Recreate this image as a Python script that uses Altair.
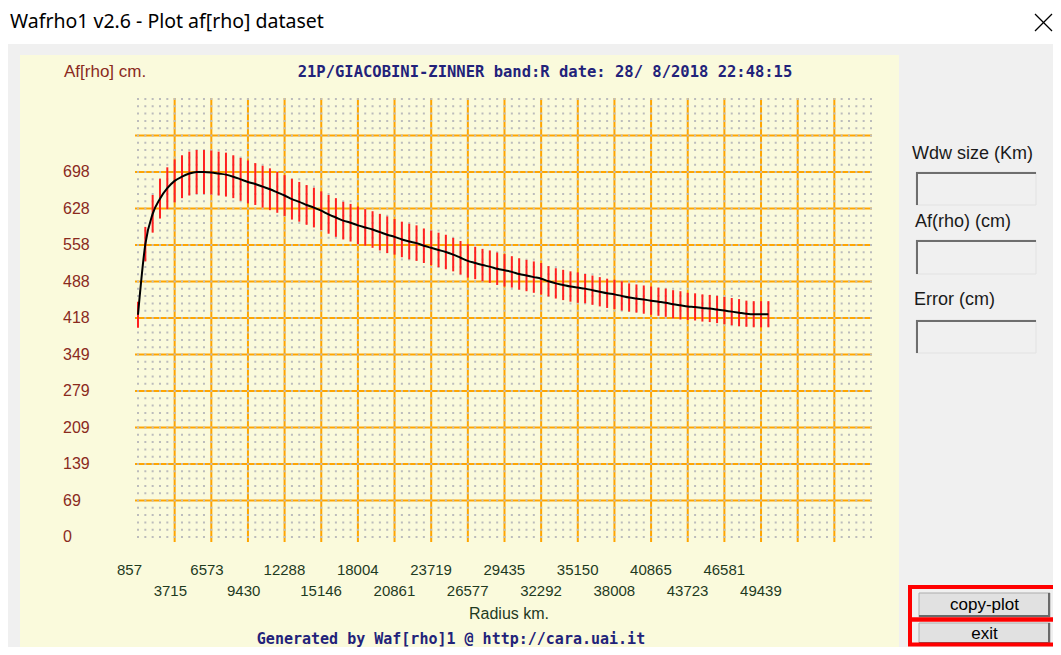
import altair as alt
import pandas as pd

# ---------------- data ----------------
radius = [857, 1429, 2000, 2572, 3143, 3715, 4286, 4858, 5429, 6001,
          6573, 7144, 7716, 8287, 8859, 9430, 10002, 10574, 11145, 11717,
          12288, 12860, 13431, 14003, 14574, 15146, 15718, 16289, 16861, 17432,
          18004, 18575, 19147, 19718, 20290, 20862, 21433, 22005, 22576, 23148,
          23719, 24291, 24863, 25434, 26006, 26577, 27149, 27720, 28292, 28863,
          29435, 30007, 30578, 31150, 31721, 32293, 32864, 33436, 34008, 34579,
          35151, 35722, 36294, 36865, 37437, 38008, 38580, 39152, 39723, 40295,
          40866, 41438, 42009, 42581, 43153, 43724, 44296, 44867, 45439, 46010,
          46582, 47153, 47725, 48297, 48868, 49440, 50011]
afrho = [425, 560, 618, 647, 667, 681, 689, 695, 698, 698,
         697, 695, 693, 689, 684, 679, 675, 670, 665, 659,
         653, 646, 641, 635, 630, 624, 617, 611, 605, 601,
         596, 592, 588, 583, 578, 574, 569, 565, 562, 557,
         553, 549, 545, 540, 534, 528, 524, 520, 517, 513,
         510, 507, 503, 500, 497, 494, 489, 485, 482, 479,
         477, 475, 472, 469, 466, 464, 461, 458, 456, 454,
         452, 450, 448, 445, 443, 441, 440, 438, 437, 435,
         433, 431, 429, 427, 426, 426, 426]
error = [25, 33, 36, 38, 40, 41, 41, 42, 42, 42,
         42, 42, 42, 41, 41, 41, 40, 40, 40, 39,
         39, 39, 38, 38, 38, 37, 37, 37, 36, 36,
         36, 35, 35, 35, 35, 34, 34, 34, 34, 33,
         33, 33, 33, 32, 32, 32, 31, 31, 31, 31,
         31, 30, 30, 30, 30, 30, 29, 29, 29, 29,
         29, 28, 28, 28, 28, 28, 28, 27, 27, 27,
         27, 27, 27, 27, 27, 26, 26, 26, 26, 26,
         26, 26, 26, 25, 25, 25, 25]

x_tick_values = [857, 3715, 6573, 9430, 12288, 15146, 18004, 20861, 23719,
                 26577, 29435, 32292, 35150, 38008, 40865, 43723, 46581, 49439]
x_tick_labels = ["857", "3715", "6573", "9430", "12288", "15146", "18004",
                 "20861", "23719", "26577", "29435", "32292", "35150",
                 "38008", "40865", "43723", "46581", "49439"]
x_grid_values = [3715, 6573, 9430, 12288, 15146, 18004, 20861, 23719, 26577,
                 29435, 32292, 35150, 38008, 40865, 43723, 46581, 49439,
                 52297, 55155]
y_tick_values = [0, 69.8, 139.6, 209.4, 279.2, 349.0, 418.8, 488.6, 558.4,
                 628.2, 698.0]
y_tick_labels = ["0", "69", "139", "209", "279", "349", "418", "488", "558",
                 "628", "698"]
y_grid_values = [69.8, 139.6, 209.4, 279.2, 349.0, 418.8, 488.6, 558.4,
                 628.2, 698.0, 767.8]
X_DOMAIN = [857, 58013]
Y_DOMAIN = [0, 837.6]

window_title = "Wafrho1 v2.6 - Plot af[rho] dataset"
plot_title = "21P/GIACOBINI-ZINNER band:R date: 28/ 8/2018 22:48:15"
y_title = "Af[rho] cm."
x_title = "Radius km."
footer = "Generated by Waf[rho]1 @ http://cara.uai.it"
side_labels = ["Wdw size (Km)", "Af(rho) (cm)", "Error (cm)"]
buttons = ["copy-plot", "exit"]

# ---------------- styling / layout ----------------
SANS = "Liberation Sans"
UI = "Noto Sans"
MONO = "DejaVu Sans Mono"
YELLOW = "#fafadc"
ORANGE = "#ffa500"
NAVY = "#22227a"
BROWN = "#8a2a1e"
GREEN = "#1f3a1f"

W, H = 733, 438
xs = alt.Scale(domain=X_DOMAIN, nice=False, zero=False)
ys = alt.Scale(domain=Y_DOMAIN, nice=False, zero=False)
one = pd.DataFrame({"a": [0]})


def rect(x, x2, y, y2, **kw):
    return alt.Chart(one).mark_rect(**kw).encode(
        x=alt.value(x), x2=alt.value(x2), y=alt.value(y), y2=alt.value(y2))


def line(x, y, x2, y2, **kw):
    return alt.Chart(one).mark_rule(**kw).encode(
        x=alt.value(x), x2=alt.value(x2), y=alt.value(y), y2=alt.value(y2))


def text(s, x, y, **kw):
    kw.setdefault("baseline", "middle")
    return alt.Chart(one).mark_text(**kw).encode(
        x=alt.value(x), y=alt.value(y), text=alt.value(s))


layers = []
# window chrome
layers.append(rect(-140, 930, -101, -55, color="#ffffff"))
layers.append(rect(-118, 761, -44, 580, color=YELLOW))
layers.append(text(window_title, -128, -71, align="left", baseline="alphabetic",
                   font=UI, fontSize=19.5, color="#000000"))
layers.append(line(897, -85, 914, -68, color="#000000", strokeWidth=1.3))
layers.append(line(914, -85, 897, -68, color="#000000", strokeWidth=1.3))

# grid: orange major lines
layers.append(alt.Chart(pd.DataFrame({"gx": x_grid_values})).mark_rule(
    color=ORANGE, strokeWidth=2).encode(
    x=alt.X("gx:Q", scale=xs, axis=None), y=alt.value(-1), y2=alt.value(443)))
layers.append(alt.Chart(pd.DataFrame({"gy": y_grid_values})).mark_rule(
    color=ORANGE, strokeWidth=2).encode(
    y=alt.Y("gy:Q", scale=ys, axis=None), x=alt.value(-3), x2=alt.value(734)))
# grid: dotted minor lattice
minor_x = [X_DOMAIN[0] + i * (X_DOMAIN[1] - X_DOMAIN[0]) / 100 for i in range(101)]
layers.append(alt.Chart(pd.DataFrame({"mx": minor_x})).mark_rule(
    color="#bcbcbc", strokeWidth=2, strokeDash=[2, 5.3]).encode(
    x=alt.X("mx:Q", scale=xs, axis=None), y=alt.value(-1), y2=alt.value(440)))

# data
df = pd.DataFrame({"r": radius, "af": afrho, "err": error})
layers.append(alt.Chart(df).transform_calculate(
    lo="datum.af - datum.err", hi="datum.af + datum.err").mark_rule(
    color="#ff2020", strokeWidth=2).encode(
    x=alt.X("r:Q", scale=xs, axis=None),
    y=alt.Y("lo:Q", scale=ys, axis=None), y2="hi:Q"))
layers.append(alt.Chart(df).mark_line(
    color="#000000", strokeWidth=2, interpolate="monotone").encode(
    x=alt.X("r:Q", scale=xs, axis=None), y=alt.Y("af:Q", scale=ys, axis=None)))

# axis labels
layers.append(alt.Chart(pd.DataFrame({"v": y_tick_values, "t": y_tick_labels})).mark_text(
    align="left", baseline="middle", font=SANS, fontSize=16, color=BROWN).encode(
    x=alt.value(-75), y=alt.Y("v:Q", scale=ys, axis=None), text="t:N"))
xdf = pd.DataFrame({"v": x_tick_values, "t": x_tick_labels,
                    "row": [i % 2 for i in range(len(x_tick_values))]})
for row, ypix in ((0, 470.5), (1, 491.5)):
    layers.append(alt.Chart(xdf).transform_filter(f"datum.row == {row}").mark_text(
        align="left", baseline="middle", dx=-21, font=SANS, fontSize=15,
        color=GREEN).encode(
        x=alt.X("v:Q", scale=xs, axis=None), y=alt.value(ypix), text="t:N"))

layers.append(text(y_title, -74, -27, align="left", font=SANS, fontSize=17, color=BROWN))
layers.append(text(plot_title, 407, -27, align="center", font=MONO, fontSize=15.5,
                   fontWeight="bold", color=NAVY))
layers.append(text(x_title, 331, 514.5, align="left", font=SANS, fontSize=16, color=GREEN))
layers.append(text(footer, 313, 539.5, align="center", font=MONO, fontSize=15,
                   fontWeight="bold", color=NAVY))

# right-side widgets
for s, (lx, ly), (by, by2) in zip(side_labels,
                                  [(774, 55), (777, 123), (776, 201)],
                                  [(73, 106), (141, 175), (221, 254)]):
    layers.append(text(s, lx, ly, align="left", font=SANS, fontSize=18, color="#1a1a1a"))
    layers.append(rect(778, 898, by, by2, color="#f0f0f0", stroke="#e2e2e2", strokeWidth=1))
    layers.append(line(778, by + 1, 898, by + 1, color="#6e6e6e", strokeWidth=2))
    layers.append(line(779, by, 779, by2, color="#6e6e6e", strokeWidth=2))

for s, (by, by2) in zip(buttons, [(494, 518), (524, 545)]):
    layers.append(rect(781, 912, by, by2, color="#e1e1e1", stroke="#adadad", strokeWidth=1))
    layers.append(line(781, by2 - 1, 912, by2 - 1, color="#6a6a6a", strokeWidth=2))
    layers.append(line(911, by, 911, by2, color="#6a6a6a", strokeWidth=2))
    layers.append(text(s, 846.5, (by + by2) / 2, align="center", font=SANS,
                       fontSize=17, color="#000000"))

layers.append(rect(772, 921, 488, 520.5, filled=False, stroke="#ff0000", strokeWidth=4))
layers.append(rect(772, 921, 520.5, 545.5, filled=False, stroke="#ff0000", strokeWidth=4))

chart = alt.layer(*layers).properties(
    width=W, height=H,
    padding={"left": 130, "top": 91, "right": 182, "bottom": 110},
    autosize=alt.AutoSizeParams(type="none"),
    background="#f0f0f0",
).configure_view(stroke=None)

chart.save("out.html", embed_options={"renderer": "svg", "actions": False})
